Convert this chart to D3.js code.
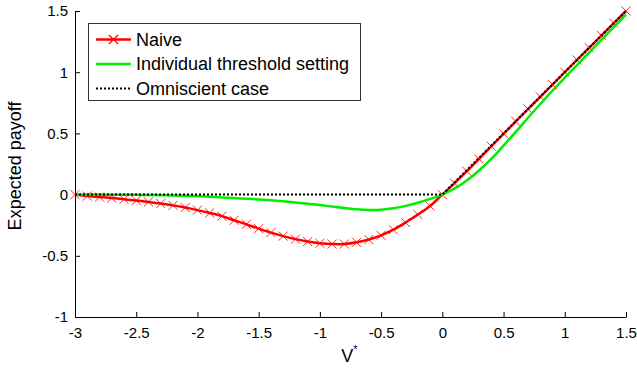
<!DOCTYPE html>
<html>
<head>
<meta charset="utf-8">
<script src="https://cdn.jsdelivr.net/npm/d3@7"></script>
<style>
  body { margin: 0; background: #fff; }
  svg { font-family: "Liberation Sans", Arial, sans-serif; }
</style>
</head>
<body>
<svg id="viz"></svg>
<script>

// ----------------------- DATA

// V* grid, step 0.1 from -3 to 1.5
const vStar = [
  -3.0, -2.9, -2.8, -2.7, -2.6, -2.5, -2.4, -2.3, -2.2, -2.1,
  -2.0, -1.9, -1.8, -1.7, -1.6, -1.5, -1.4, -1.3, -1.2, -1.1,
  -1.0, -0.9, -0.8, -0.7, -0.6, -0.5, -0.4, -0.3, -0.2, -0.1,
   0.0,  0.1,  0.2,  0.3,  0.4,  0.5,  0.6,  0.7,  0.8,  0.9,
   1.0,  1.1,  1.2,  1.3,  1.4,  1.5
];

const naive = [
   0.000, -0.012, -0.020, -0.028, -0.038, -0.048, -0.060, -0.073, -0.088, -0.106,
  -0.127, -0.150, -0.176, -0.210, -0.243, -0.278, -0.311, -0.339, -0.364, -0.384,
  -0.398, -0.404, -0.404, -0.390, -0.367, -0.333, -0.287, -0.228, -0.163, -0.093,
   0.000,  0.093,  0.191,  0.292,  0.395,  0.497,  0.598,  0.699,  0.799,  0.899,
   1.000,  1.100,  1.200,  1.300,  1.400,  1.500
];

const individual = [
   0.000,  0.000,  0.000, -0.001, -0.001, -0.002, -0.003, -0.005, -0.007, -0.010,
  -0.014, -0.018, -0.023, -0.028, -0.034, -0.040, -0.047, -0.055, -0.064, -0.074,
  -0.085, -0.098, -0.110, -0.120, -0.125, -0.123, -0.112, -0.092, -0.066, -0.035,
   0.000,  0.050,  0.115,  0.197,  0.292,  0.400,  0.512,  0.628,  0.740,  0.850,
   0.955,  1.058,  1.162,  1.265,  1.368,  1.470
];

const omniX = [-3, 0, 1.5];
const omniY = [0, 0, 1.5];

const xTicks = [-3, -2.5, -2, -1.5, -1, -0.5, 0, 0.5, 1, 1.5];
const yTicks = [-1, -0.5, 0, 0.5, 1, 1.5];

const legendLabels = ['Naive', 'Individual threshold setting', 'Omniscient case'];

// ----------------------- SETTINGS

const margin = { top: 11, right: 11, bottom: 57, left: 75 },
  width = 637 - margin.left - margin.right,
  height = 374 - margin.top - margin.bottom;

const red = '#ff0000', green = '#00ee00';

// plain hyphen minus, like the original figure
const fmt = d => String(d);

// ----------------------- AXES DEFINITIONS

const x = d3.scaleLinear().domain([-3, 1.5]).range([0, width]);
const y = d3.scaleLinear().domain([-1, 1.5]).range([height, 0]);

const xAxis = d3.axisBottom(x)
  .tickValues(xTicks)
  .tickFormat(fmt)
  .tickSize(-5)
  .tickPadding(10);

const yAxis = d3.axisLeft(y)
  .tickValues(yTicks)
  .tickFormat(fmt)
  .tickSize(-5)
  .tickPadding(7);

// ----------------------- CREATE CHART CONTAINER

const svg = d3.select('#viz')
  .attr('width', 637)
  .attr('height', 374);

const chart = svg.append('g')
  .attr('transform', `translate(${margin.left}, ${margin.top})`);

// axis x
chart.append('g')
  .attr('transform', `translate(0, ${height})`)
  .call(xAxis)
  .call(g => g.select('.domain').attr('d', `M0.5,0.5H${width + 0.5}`))
  .selectAll('text')
  .attr('font-size', 15)
  .attr('fill', '#000')
  .attr('font-family', '"Liberation Sans", Arial, sans-serif');

// axis y
chart.append('g')
  .call(yAxis)
  .call(g => g.select('.domain').attr('d', `M0.5,${height + 0.5}V0.5`))
  .selectAll('text')
  .attr('font-size', 15)
  .attr('fill', '#000')
  .attr('font-family', '"Liberation Sans", Arial, sans-serif');

// axis labels
svg.append('text')
  .attr('transform', `translate(21, ${margin.top + height / 2 + 2}) rotate(-90)`)
  .attr('text-anchor', 'middle')
  .attr('font-size', 18)
  .text('Expected payoff');

const xl = svg.append('text')
  .attr('x', margin.left + width / 2 - 1)
  .attr('y', 362)
  .attr('text-anchor', 'middle')
  .attr('font-size', 18);
xl.append('tspan').text('V');
xl.append('tspan').attr('font-size', 11).attr('dy', -9).text('*');

// ----------------------- LINES

const line = d3.line()
  .x(d => x(d[0]))
  .y(d => y(d[1]));

const naivePts = vStar.map((v, i) => [v, naive[i]]);
const indivPts = vStar.map((v, i) => [v, individual[i]]);
const omniPts = omniX.map((v, i) => [v, omniY[i]]);

const xMark = d3.symbol().type(d3.symbolX).size(55);

chart.append('path')
  .datum(naivePts)
  .attr('fill', 'none')
  .attr('stroke', red)
  .attr('stroke-width', 2.5)
  .attr('d', line.curve(d3.curveCatmullRom));

chart.selectAll('.mk')
  .data(naivePts)
  .enter().append('path')
  .attr('class', 'mk')
  .attr('transform', d => `translate(${x(d[0])}, ${y(d[1])})`)
  .attr('d', xMark)
  .attr('fill', 'none')
  .attr('stroke', red)
  .attr('stroke-opacity', 0.85)
  .attr('stroke-width', 1);

chart.append('path')
  .datum(indivPts)
  .attr('fill', 'none')
  .attr('stroke', green)
  .attr('stroke-width', 2.5)
  .attr('d', line.curve(d3.curveCatmullRom));

chart.append('path')
  .datum(omniPts)
  .attr('fill', 'none')
  .attr('stroke', '#000')
  .attr('stroke-width', 2)
  .attr('stroke-dasharray', '2,2')
  .attr('d', line.curve(d3.curveLinear));

// ----------------------- LEGEND

const legend = svg.append('g');

legend.append('rect')
  .attr('x', 88.5)
  .attr('y', 23.5)
  .attr('width', 272)
  .attr('height', 77)
  .attr('fill', '#fff')
  .attr('stroke', '#333')
  .attr('stroke-width', 1);

const rowY = [39.5, 64, 88.5];
const lineStyles = [
  { stroke: red, width: 2.5, dash: null },
  { stroke: green, width: 2.5, dash: null },
  { stroke: '#000', width: 2, dash: '2,2' }
];

legendLabels.forEach((label, i) => {
  legend.append('line')
    .attr('x1', 96).attr('x2', 131)
    .attr('y1', rowY[i]).attr('y2', rowY[i])
    .attr('stroke', lineStyles[i].stroke)
    .attr('stroke-width', lineStyles[i].width)
    .attr('stroke-dasharray', lineStyles[i].dash);
  legend.append('text')
    .attr('x', 136)
    .attr('y', rowY[i] + 6)
    .attr('font-size', 18)
    .text(label);
});

legend.append('path')
  .attr('transform', `translate(113.5, ${rowY[0]})`)
  .attr('d', xMark)
  .attr('fill', 'none')
  .attr('stroke', red)
  .attr('stroke-width', 1.2);

</script>
</body>
</html>
